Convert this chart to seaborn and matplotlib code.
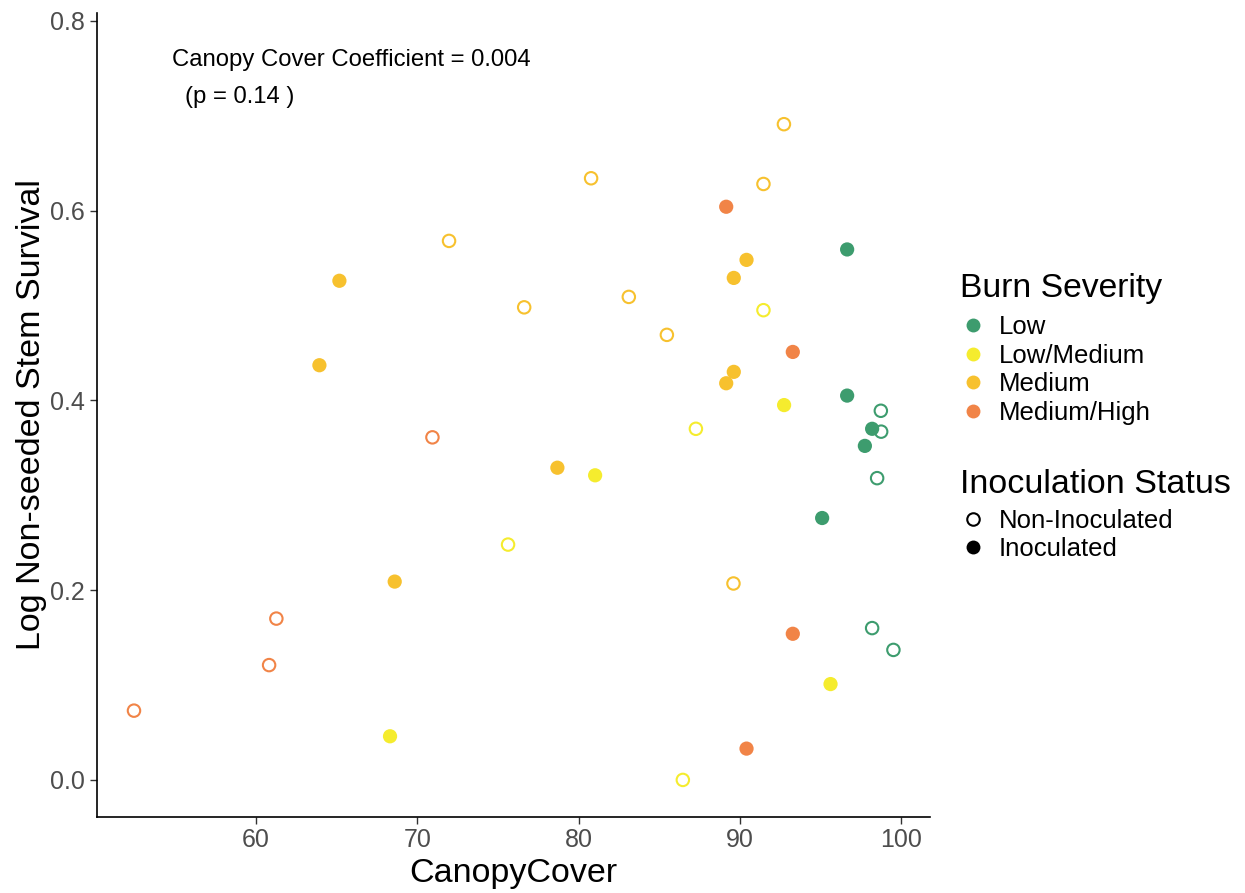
import matplotlib
matplotlib.use("Agg")
import matplotlib.pyplot as plt
import seaborn as sns
import pandas as pd
import numpy as np
from matplotlib.lines import Line2D

# ---- data ----
severity_levels = ["Low", "Low/Medium", "Medium", "Medium/High"]
status_levels = ["Non-Inoculated", "Inoculated"]

low_x_inoc = [96.66, 96.66, 98.21, 97.76, 95.11]
low_y_inoc = [0.559, 0.405, 0.370, 0.352, 0.276]
low_x_non = [98.75, 98.77, 98.52, 98.21, 99.53]
low_y_non = [0.389, 0.367, 0.318, 0.160, 0.137]

lowmed_x_inoc = [92.75, 81.03, 68.31, 95.63]
lowmed_y_inoc = [0.395, 0.321, 0.046, 0.101]
lowmed_x_non = [91.47, 87.28, 75.63, 86.47]
lowmed_y_non = [0.495, 0.370, 0.248, 0.000]

med_x_inoc = [65.17, 63.93, 90.42, 89.63, 89.63, 89.16, 78.69, 68.60]
med_y_inoc = [0.526, 0.437, 0.548, 0.529, 0.430, 0.418, 0.329, 0.209]
med_x_non = [92.74, 80.78, 91.47, 71.97, 76.63, 83.12, 85.48, 89.61]
med_y_non = [0.691, 0.634, 0.628, 0.568, 0.498, 0.509, 0.469, 0.207]

medhigh_x_inoc = [89.16, 93.29, 93.29, 90.42]
medhigh_y_inoc = [0.604, 0.451, 0.154, 0.033]
medhigh_x_non = [52.43, 60.81, 61.26, 70.94]
medhigh_y_non = [0.073, 0.121, 0.170, 0.361]

palette_colors = ["#3D9C6E", "#F5EC2E", "#F7C12E", "#F18447"]

annotation_line1 = "Canopy Cover Coefficient = 0.004"
annotation_line2 = "(p = 0.14 )"

# ---- build table ----
rows = []
groups = [
    ("Low", low_x_inoc, low_y_inoc, low_x_non, low_y_non),
    ("Low/Medium", lowmed_x_inoc, lowmed_y_inoc, lowmed_x_non, lowmed_y_non),
    ("Medium", med_x_inoc, med_y_inoc, med_x_non, med_y_non),
    ("Medium/High", medhigh_x_inoc, medhigh_y_inoc, medhigh_x_non, medhigh_y_non),
]
for sev, xi, yi, xn, yn in groups:
    for a, b in zip(xi, yi):
        rows.append((sev, "Inoculated", a, b))
    for a, b in zip(xn, yn):
        rows.append((sev, "Non-Inoculated", a, b))
df = pd.DataFrame(rows, columns=["Severity", "Status", "CanopyCover", "LogSurv"])
df["Severity"] = pd.Categorical(df["Severity"], categories=severity_levels)

palette = dict(zip(severity_levels, palette_colors))

sns.set_theme(style="white")
plt.rcParams["font.family"] = ["Liberation Sans", "DejaVu Sans"]
plt.rcParams["text.color"] = "black"
plt.rcParams["axes.labelcolor"] = "black"

fig = plt.figure(figsize=(12.45, 8.93), dpi=100)
ax = fig.add_axes([0.0777, 0.0855, 0.747 - 0.0777, 0.9858 - 0.0855])

# open (non-inoculated)
non = df[df["Status"] == "Non-Inoculated"]
sns.scatterplot(data=non, x="CanopyCover", y="LogSurv", hue="Severity",
                palette=palette, s=80, linewidth=0, legend=False, ax=ax)
coll = ax.collections[-1]
fc = coll.get_facecolors()
coll.set_edgecolors(fc)
coll.set_facecolors("none")
coll.set_linewidths(1.5)

# filled (inoculated)
ino = df[df["Status"] == "Inoculated"]
sns.scatterplot(data=ino, x="CanopyCover", y="LogSurv", hue="Severity",
                palette=palette, s=105, linewidth=0, legend=False, ax=ax)

ax.set_xlim(50.12, 101.8)
ax.set_ylim(-0.0387, 0.8085)
ax.set_xticks([60, 70, 80, 90, 100])
ax.set_yticks([0.0, 0.2, 0.4, 0.6, 0.8])
ax.set_yticklabels(["0.0", "0.2", "0.4", "0.6", "0.8"])
ax.tick_params(axis="both", labelsize=18, labelcolor="#4D4D4D", color="#333333",
               length=5, width=1, direction="out", left=True, bottom=True)
for side in ["top", "right"]:
    ax.spines[side].set_visible(False)
for side in ["left", "bottom"]:
    ax.spines[side].set_color("black")
    ax.spines[side].set_linewidth(1.2)

ax.set_xlabel("CanopyCover", fontsize=24.5, color="black", labelpad=4)
ax.set_ylabel("Log Non-seeded Stem Survival", fontsize=24.5, color="black", labelpad=2)

ax.text(54.79, 0.7587, annotation_line1, fontsize=17.2, va="center", ha="left", color="black")
ax.text(55.6, 0.7197, annotation_line2, fontsize=17.2, va="center", ha="left", color="black")

# legends
sev_handles = [Line2D([0], [0], marker="o", linestyle="none", markersize=10,
                      markerfacecolor=c, markeredgewidth=0, color=c)
               for c in palette_colors]
leg1 = fig.legend(sev_handles, severity_levels, title="Burn Severity",
                  loc="upper left", bbox_to_anchor=(0.763, 0.706), frameon=False,
                  fontsize=18.5, title_fontsize=24.3, handletextpad=0.5,
                  labelspacing=0.18, borderaxespad=0, handlelength=1.0)
leg1._legend_box.align = "left"
leg1._legend_box.sep = 8.0

st_handles = [
    Line2D([0], [0], marker="o", linestyle="none", markersize=9,
           markerfacecolor="none", markeredgecolor="black", markeredgewidth=1.5),
    Line2D([0], [0], marker="o", linestyle="none", markersize=10,
           markerfacecolor="black", markeredgewidth=0),
]
leg2 = fig.legend(st_handles, status_levels, title="Inoculation Status",
                  loc="upper left", bbox_to_anchor=(0.763, 0.486), frameon=False,
                  fontsize=18.5, title_fontsize=24.5, handletextpad=0.5,
                  labelspacing=0.15, borderaxespad=0, handlelength=1.0)
leg2._legend_box.align = "left"
leg2._legend_box.sep = 6.5

fig.savefig("out.png", dpi=100)
